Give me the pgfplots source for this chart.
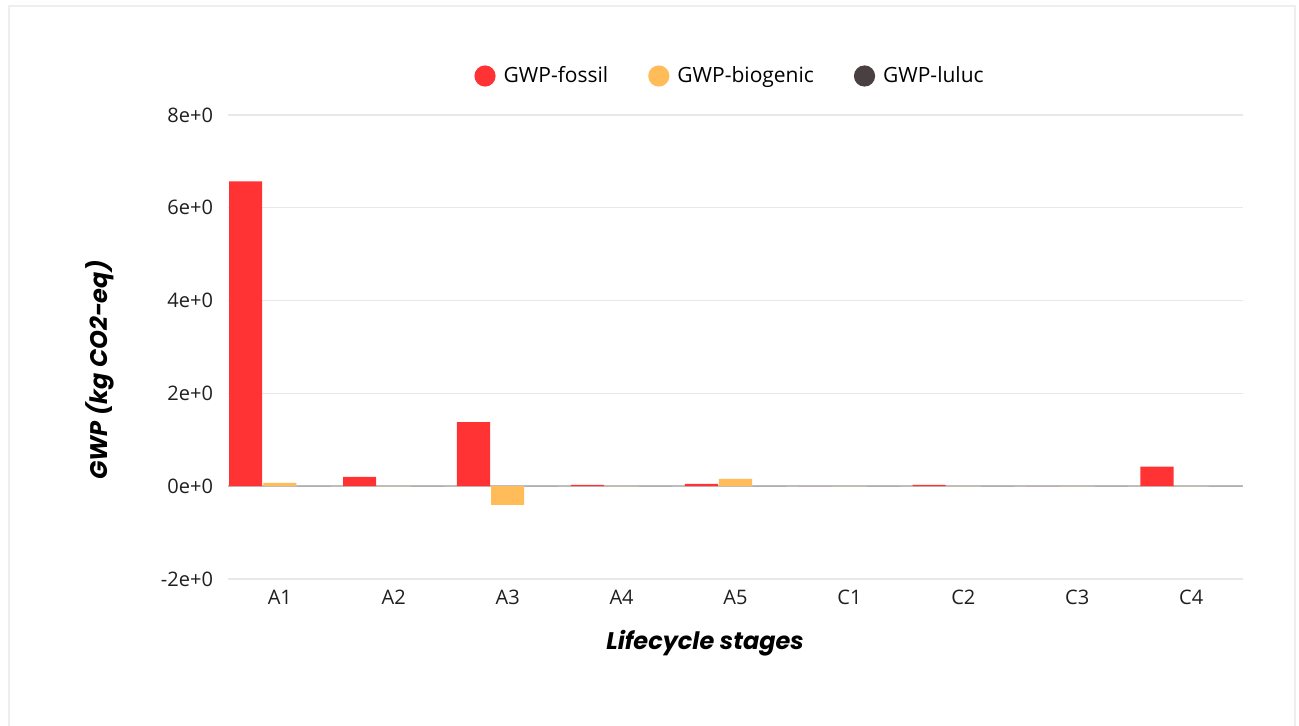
\documentclass[border=0pt]{standalone}
\usepackage{fontspec}
\setmainfont{Open Sans}
\newfontfamily\labelfont{Poppins}
\usepackage{pgfplots}
\pgfplotsset{compat=1.18}

\definecolor{fossil}{HTML}{FF3333}
\definecolor{biogenic}{HTML}{FFBC58}
\definecolor{luluc}{HTML}{4A3F41}
\definecolor{gridc}{HTML}{E8E8E8}
\definecolor{zeroc}{HTML}{BDBDBD}
\definecolor{framec}{HTML}{EEEEEE}

\begin{document}
\begin{tikzpicture}[x=1pt,y=1pt]
  % page is 1299 x 726 px at 0.5pt per px
  \useasboundingbox[fill=white] (0,0) rectangle (649.5,363);
  \draw[framec, line width=1pt] (4.25,0) -- (4.25,360) -- (647.5,360) -- (647.5,0);
  \begin{axis}[
    at={(114pt,73.5pt)}, anchor=south west,
    scale only axis,
    width=507.5pt, height=232pt,
    ybar,
    bar width=0.29,
    xmin=-0.455, xmax=8.455,
    ymin=-2, ymax=8,
    xtick={0,...,8},
    xticklabels={A1,A2,A3,A4,A5,C1,C2,C3,C4},
    ytick={-2,0,2,4,6,8},
    yticklabels={-2e+0,0e+0,2e+0,4e+0,6e+0,8e+0},
    axis line style={draw=none},
    major tick length=0pt,
    ymajorgrids,
    grid style={gridc, line width=0.6pt},
    extra y ticks={0},
    extra y tick labels={},
    extra y tick style={grid style={zeroc, line width=0.9pt}},
    tick label style={font=\fontsize{10}{12}\selectfont, text=black!88},
    yticklabel style={xshift=-4pt},
    xticklabel style={yshift=-2pt},
    every axis x label/.style={at={(rel axis cs:0.47,0)}, anchor=center, yshift=-32pt},
    every axis y label/.style={at={(rel axis cs:0,0.45)}, anchor=center, rotate=90, yshift=64pt},
    xlabel={\fontsize{12}{14}\selectfont\labelfont\bfseries\itshape Lifecycle stages},
    ylabel={\fontsize{12}{14}\selectfont\labelfont\bfseries\itshape GWP (kg CO2-eq)},
    legend columns=-1,
    legend style={at={(0.4956,1)}, anchor=center, yshift=19.5pt, draw=none,
      font=\fontsize{10.5}{12}\selectfont,
      /tikz/every even column/.append style={column sep=18pt},
      /tikz/every odd column/.append style={column sep=2pt}},
    legend image code/.code={\fill[#1] (0pt,0pt) circle (5.3pt);},
    clip=false,
  ]
    \addplot[fill=fossil, draw=none, bar shift=-0.30] coordinates {
      (0,6.57) (1,0.20) (2,1.38) (3,0.03) (4,0.05) (5,0) (6,0.03) (7,0) (8,0.42)};
    \addplot[fill=biogenic, draw=none, bar shift=0] coordinates {
      (0,0.07) (1,0) (2,-0.40) (3,0) (4,0.16) (5,0) (6,0) (7,0) (8,0)};
    \addplot[fill=luluc, draw=none, bar shift=0.30] coordinates {
      (0,0) (1,0) (2,0) (3,0) (4,0) (5,0) (6,0) (7,0) (8,0)};
    \legend{GWP-fossil,GWP-biogenic,GWP-luluc}
  \end{axis}
\end{tikzpicture}
\end{document}
